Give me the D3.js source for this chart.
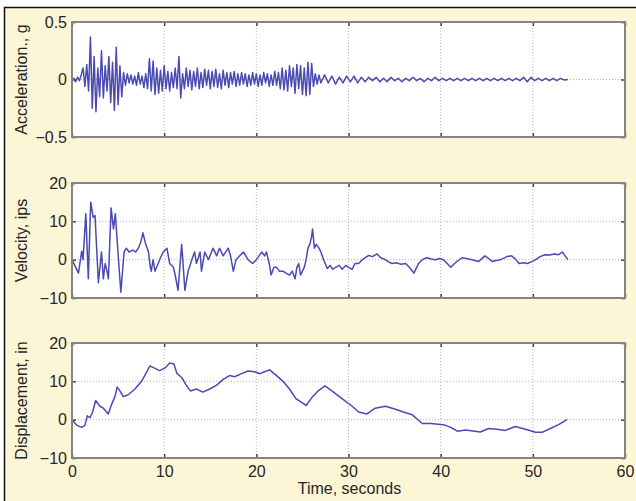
<!DOCTYPE html>
<html>
<head>
<meta charset="utf-8">
<script src="https://cdn.jsdelivr.net/npm/d3@7"></script>
<style>
  html, body { margin: 0; padding: 0; background: #fff; }
  svg { display: block; }
  text { font-family: "Liberation Sans", Arial, sans-serif; fill: #262626; }
</style>
</head>
<body>
<div id="chart"></div>
<script>
// DATA //

// Acceleration (g): dense part sampled every 0.2 s from 0 to 27 s
const accelDenseStart = 0;
const accelDenseStep = 0.2;
const accelDense = [
  0, 0.01, -0.02, 0.02, -0.01, 0.04, 0.1, -0.06, 0.13, -0.1,
  0.37, -0.25, 0.2, -0.28, 0.1, -0.15, 0.25, -0.16, 0.12, -0.1,
  0.2, -0.2, 0.15, -0.27, 0.28, -0.22, 0.12, -0.15, 0.06, -0.05,
  0.05, -0.03, 0.04, -0.04, 0.03, -0.05, 0.06, -0.04, 0.03, -0.07,
  0.05, -0.08, 0.18, -0.1, 0.16, -0.13, 0.1, -0.12, 0.08, -0.1,
  0.12, -0.08, 0.07, -0.1, 0.06, -0.07, 0.1, -0.08, 0.2, -0.16,
  0.05, -0.08, 0.1, -0.06, 0.08, -0.09, 0.07, -0.06, 0.1, -0.08,
  0.06, -0.07, 0.09, -0.05, 0.08, -0.08, 0.07, -0.06, 0.09, -0.07,
  0.05, -0.08, 0.08, -0.05, 0.06, -0.07, 0.06, -0.04, 0.07, -0.06,
  0.05, -0.05, 0.06, -0.04, 0.05, -0.06, 0.04, -0.05, 0.06, -0.04,
  0.05, -0.06, 0.04, -0.05, 0.06, -0.03, 0.05, -0.06, 0.04, -0.05,
  0.07, -0.05, 0.06, -0.08, 0.1, -0.09, 0.08, -0.1, 0.12, -0.06,
  0.1, -0.12, 0.13, -0.08, 0.12, -0.13, 0.1, -0.14, 0.15, -0.13,
  0.14, -0.06, 0.05, -0.04, 0.04, -0.03,
];
// Acceleration tail sampled every 0.4 s from 27.4 s to 53.8 s
const accelTailStart = 27.4;
const accelTailStep = 0.4;
const accelTail = [
  0.04, -0.03, 0.03, -0.04, 0.02, -0.03, 0.03, -0.02, 0.03, -0.03,
  0.02, -0.02, 0.02, -0.01, 0.02, -0.02, 0.01, -0.02, 0.02, -0.01,
  0.01, -0.02, 0.01, -0.01, 0.02, -0.01, 0.01, -0.02, 0.01, -0.01,
  0.02, -0.01, 0.01, -0.01, 0.01, -0.01, 0.01, -0.01, 0.01, -0.01,
  0.01, -0.01, 0.01, -0.01, 0.01, -0.01, 0.01, -0.01, 0.01, -0.01,
  0.01, -0.01, 0.01, -0.01, 0.02, -0.02, 0.02, -0.01, 0.01, -0.01,
  0.01, -0.01, 0.01, -0.01, 0.01, -0.005, 0,
];

// Velocity (ips) as [time, value]
const velocity = [
  [0, 0], [0.3, -1.5], [0.7, -3.5], [1.05, 2.2], [1.2, 0], [1.5, 12], [1.77, -5],
  [2.03, 15], [2.3, 11], [2.5, 11.5], [2.86, -6], [3.2, 2], [3.4, -5], [3.6, -1],
  [3.8, -3], [3.95, -5], [4.24, 13.5], [4.5, 8], [4.7, 12], [4.9, 5], [5.3, -8.5],
  [5.65, 2], [5.9, 3], [6.2, 2], [6.6, 2.5], [6.9, 2], [7.2, 3], [7.45, 4.5],
  [7.7, 7], [8.0, 4], [8.3, 2], [8.5, -2], [8.6, -3], [8.8, 0], [9.0, -3],
  [9.35, -1], [9.6, 0.5], [9.9, 2], [10.3, 3], [10.6, -1], [11.0, -2], [11.2, -4],
  [11.5, -8], [11.9, 4], [12.25, -8], [12.6, -3], [13.0, 0], [13.3, 2], [13.5, -1],
  [13.9, 2], [14.05, -3], [14.4, 2], [14.8, 0], [15.3, 3], [15.7, 1], [16.0, 3],
  [16.4, 1], [16.95, 3], [17.2, 1], [17.5, -3], [17.8, 0], [18.2, 1], [18.6, 2],
  [19.1, 0], [19.6, -1], [20.0, 0], [20.3, 1], [20.6, 2], [20.9, 1], [21.1, 2],
  [21.4, -1], [21.6, -4], [21.9, -2], [22.2, -2], [22.5, -3], [22.9, -3], [23.2, -3.5],
  [23.6, -4], [23.9, -3], [24.2, -5], [24.4, -2], [24.6, -1], [24.8, -4], [25.0, -3],
  [25.2, -2], [25.4, 0], [25.6, 3], [25.8, 4], [26.0, 6], [26.1, 8], [26.3, 3],
  [26.5, 4], [26.8, 3], [27.0, 2], [27.3, 0], [27.7, -2.3], [28.0, -1.5], [28.3, -2.5],
  [28.6, -2], [29.0, -1.5], [29.3, -2.5], [29.7, -1.5], [30.0, -2], [30.4, -2.5],
  [30.7, -1], [31.1, -1], [31.5, 0], [32.2, 1.1], [32.6, 0.8], [33.1, 1.5], [33.5, 0.5],
  [34.0, 0], [34.3, -0.5], [34.7, -1], [35.2, -0.8], [35.7, -1.2], [36.2, -1],
  [36.6, -2], [37.1, -3.5], [37.6, -1], [38.0, 0], [38.5, 0.5], [39.0, 0.2], [39.4, 0],
  [39.9, 0.3], [40.3, 0], [40.7, -1], [41.1, -2], [41.5, -1], [42.3, 0.5], [42.8, 0.3],
  [43.4, 0], [44.1, -0.5], [44.8, 1], [45.2, 0.3], [45.6, -0.5], [46.0, -0.2], [46.5, 0],
  [47.2, 0.8], [47.7, 1], [48.1, 0.2], [48.5, -1], [49.0, -0.8], [49.4, -1], [49.9, -0.5],
  [50.3, 0], [50.8, 0.8], [51.3, 1.3], [51.8, 1.2], [52.4, 1.5], [52.8, 1.3], [53.2, 2],
  [53.5, 1], [53.8, 0],
];

// Displacement (in) as [time, value]
const displacement = [
  [0, 0], [0.55, -1.5], [1.05, -2], [1.4, -1.5], [1.66, 1], [1.95, 0.5], [2.24, 2],
  [2.56, 5], [3.03, 3.5], [3.4, 3], [3.93, 1.5], [4.3, 4], [4.66, 6], [4.9, 8.5],
  [5.2, 7.5], [5.56, 6], [6.1, 6.5], [6.83, 8], [7.55, 10], [8.0, 12], [8.45, 14],
  [8.9, 13.5], [9.5, 12.8], [10.1, 13.5], [10.6, 14.8], [11.05, 14.5], [11.4, 12],
  [11.9, 11], [12.4, 9], [12.85, 7.5], [13.5, 8], [14.2, 7.2], [14.95, 8], [15.7, 9],
  [16.4, 10.5], [17.1, 11.5], [17.65, 11.2], [18.4, 12], [19.1, 12.7], [19.8, 12.5],
  [20.4, 12], [21.1, 12.7], [21.45, 13], [22.2, 11.5], [22.9, 10], [23.6, 8],
  [24.3, 5.5], [25.4, 3.7], [26.1, 6], [26.7, 7.5], [27.45, 8.8], [28.2, 7.5],
  [29.3, 5.5], [30.4, 3.5], [31.1, 2], [32.0, 1.5], [32.9, 3], [34.0, 3.5], [35.1, 2.7],
  [36.2, 1.8], [36.9, 1.3], [38.0, -1], [38.9, -1], [40.3, -1.3], [41.1, -2], [41.8, -3],
  [42.7, -2.7], [44.3, -3.2], [45.2, -2.3], [46.1, -2.5], [47.0, -2.8], [48.1, -1.8],
  [49.2, -2.5], [50.3, -3.3], [51.0, -3.3], [51.9, -2.3], [52.8, -1.3], [53.7, 0],
];

const timeTicks = [0, 10, 20, 30, 40, 50, 60];
const accelTicks = [-0.5, 0, 0.5];
const velocityTicks = [-10, 0, 10, 20];
const displacementTicks = [-10, 0, 10, 20];

// Build the acceleration series from its two sampled parts
const acceleration = accelDense
  .map((v, i) => [accelDenseStart + i * accelDenseStep, v])
  .concat(accelTail.map((v, i) => [accelTailStart + i * accelTailStep, v]));

const panels = [
  { label: "Acceleration., g", data: acceleration, domain: [-0.5, 0.5], ticks: accelTicks, top: 22 },
  { label: "Velocity, ips", data: velocity, domain: [-10, 20], ticks: velocityTicks, top: 183 },
  { label: "Displacement, in", data: displacement, domain: [-10, 20], ticks: displacementTicks, top: 343 },
];

// DIMENSIONS //

const dimensions = { width: 636, height: 501 };
const plotLeft = 72;
const plotRight = 625;
const plotHeight = 115;

const fmt = (d) => (d < 0 ? "\u2212" + Math.abs(d) : String(d));

// DRAW //

const svg = d3
  .select("#chart")
  .append("svg")
  .attr("width", dimensions.width)
  .attr("height", dimensions.height);

// Cream card with black left/top edges
svg
  .append("rect")
  .attr("x", 4)
  .attr("y", 7)
  .attr("width", dimensions.width - 4)
  .attr("height", dimensions.height - 7)
  .attr("fill", "#fcf6d6");
svg
  .append("path")
  .attr("d", `M4.5,${dimensions.height} V7.5 H${dimensions.width}`)
  .attr("fill", "none")
  .attr("stroke", "#111")
  .attr("stroke-width", 1.5);

const x = d3.scaleLinear().domain([0, 60]).range([plotLeft, plotRight]);

panels.forEach((p, i) => {
  const y = d3
    .scaleLinear()
    .domain(p.domain)
    .range([p.top + plotHeight, p.top]);
  const g = svg.append("g");

  // Plot background
  g.append("rect")
    .attr("x", plotLeft)
    .attr("y", p.top)
    .attr("width", plotRight - plotLeft)
    .attr("height", plotHeight)
    .attr("fill", "#fff");

  // Dotted grid
  g.selectAll(".vgrid")
    .data(timeTicks.slice(1, -1))
    .join("line")
    .attr("x1", (d) => x(d))
    .attr("x2", (d) => x(d))
    .attr("y1", p.top)
    .attr("y2", p.top + plotHeight)
    .attr("stroke", "#b5b5b5")
    .attr("stroke-dasharray", "1,2");
  g.selectAll(".hgrid")
    .data(p.ticks.slice(1, -1))
    .join("line")
    .attr("x1", plotLeft)
    .attr("x2", plotRight)
    .attr("y1", (d) => y(d))
    .attr("y2", (d) => y(d))
    .attr("stroke", "#b5b5b5")
    .attr("stroke-dasharray", "1,2");

  // Inward ticks on all four sides
  const axisColor = "#444";
  g.append("g")
    .attr("transform", `translate(0,${p.top + plotHeight})`)
    .call(d3.axisBottom(x).tickValues(timeTicks).tickSize(-4).tickFormat(i === 2 ? (d) => d : ""))
    .call((a) => a.select(".domain").remove())
    .call((a) => a.selectAll("line").attr("stroke", axisColor).attr("stroke-width", 1.5))
    .call((a) =>
      a.selectAll("text").attr("dy", "0.71em").attr("y", 8).style("font-size", "16px").attr("fill", "#262626")
    );
  g.append("g")
    .attr("transform", `translate(0,${p.top})`)
    .call(d3.axisTop(x).tickValues(timeTicks).tickSize(-4).tickFormat(""))
    .call((a) => a.select(".domain").remove())
    .call((a) => a.selectAll("line").attr("stroke", axisColor).attr("stroke-width", 1.5));
  g.append("g")
    .attr("transform", `translate(${plotLeft},0)`)
    .call(d3.axisLeft(y).tickValues(p.ticks).tickSize(-4).tickFormat(fmt))
    .call((a) => a.select(".domain").remove())
    .call((a) => a.selectAll("line").attr("stroke", axisColor).attr("stroke-width", 1.5))
    .call((a) => a.selectAll("text").attr("x", -5).style("font-size", "16px").attr("fill", "#262626"));
  g.append("g")
    .attr("transform", `translate(${plotRight},0)`)
    .call(d3.axisRight(y).tickValues(p.ticks).tickSize(-4).tickFormat(""))
    .call((a) => a.select(".domain").remove())
    .call((a) => a.selectAll("line").attr("stroke", axisColor).attr("stroke-width", 1.5));

  // Data line
  const line = d3
    .line()
    .x((d) => x(d[0]))
    .y((d) => y(d[1]));
  g.append("path")
    .datum(p.data)
    .attr("d", line)
    .attr("fill", "none")
    .attr("stroke", "#4a4ab2")
    .attr("stroke-width", 1.5)
    .attr("stroke-linejoin", "round");

  // Box frame
  g.append("rect")
    .attr("x", plotLeft)
    .attr("y", p.top)
    .attr("width", plotRight - plotLeft)
    .attr("height", plotHeight)
    .attr("fill", "none")
    .attr("stroke", "#858585")
    .attr("stroke-width", 2);

  // Y label
  g.append("text")
    .attr("transform", `translate(27,${p.top + plotHeight / 2}) rotate(-90)`)
    .attr("text-anchor", "middle")
    .style("font-size", "16px")
    .text(p.label);
});

// X label
svg
  .append("text")
  .attr("x", x(30) + 1)
  .attr("y", 494)
  .attr("text-anchor", "middle")
  .style("font-size", "16px")
  .text("Time, seconds");
</script>
</body>
</html>
